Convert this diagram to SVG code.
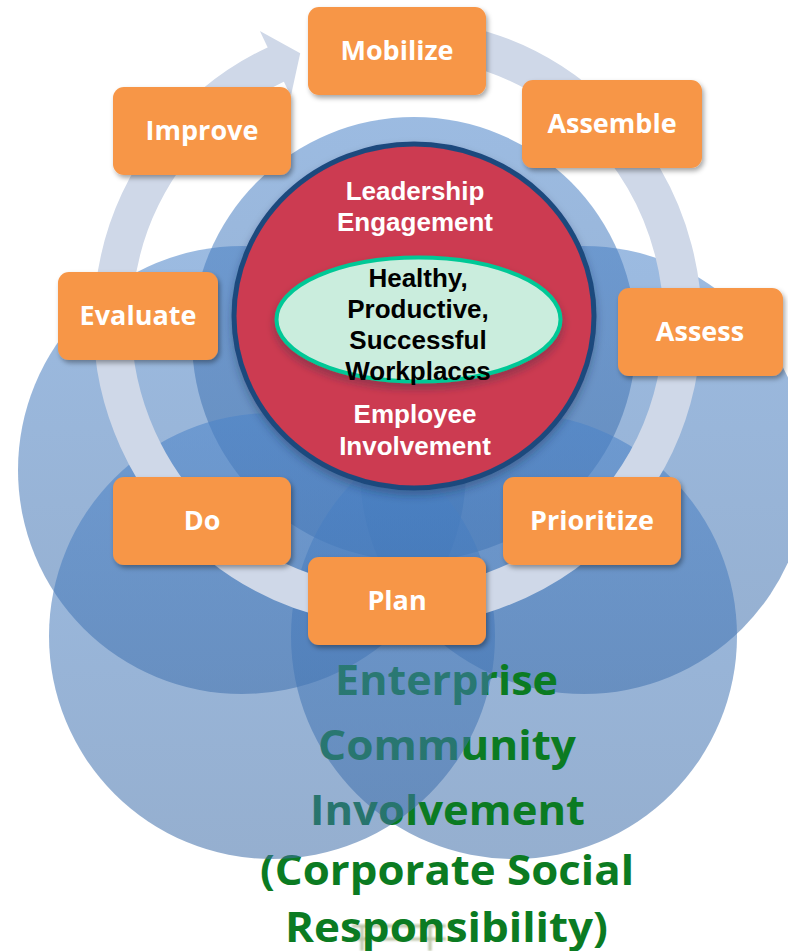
<svg xmlns="http://www.w3.org/2000/svg" width="788" height="951" viewBox="0 0 788 951">
  <defs>
    <linearGradient id="blueFill" x1="0" y1="0" x2="0" y2="1">
      <stop offset="0" stop-color="#4A83C9"/>
      <stop offset="1" stop-color="#3E6DA8"/>
    </linearGradient>
    <filter id="boxShadow" x="-20%" y="-20%" width="140%" height="150%">
      <feDropShadow dx="2" dy="3" stdDeviation="2.5" flood-color="#000" flood-opacity="0.35"/>
    </filter>
    <filter id="softShadow" x="-20%" y="-20%" width="140%" height="150%">
      <feDropShadow dx="0" dy="5" stdDeviation="4" flood-color="#1a2a40" flood-opacity="0.35"/>
    </filter>
    <filter id="faint" x="-10%" y="-10%" width="120%" height="120%">
      <feGaussianBlur stdDeviation="0.8"/>
    </filter>
  </defs>
  <style>
    .venn { fill: url(#blueFill); fill-opacity: 0.55; }
    .step rect { fill: #F79646; filter: url(#boxShadow); }
    .step text { font-family: "Open Sans", "Liberation Sans", sans-serif; font-weight: 700; font-size: 27px; fill: #FFFFFF; text-anchor: middle; }
    .core { font-family: "Liberation Sans", Arial, sans-serif; font-weight: 700; font-size: 26px; text-anchor: middle; }
    .big { font-family: "Open Sans", "Liberation Sans", sans-serif; font-weight: 700; font-size: 41px; fill: #0B7B22; }
  </style>

  <rect width="788" height="951" fill="#FFFFFF"/>

  <!-- overlapping background circles -->
  <g id="venn-back">
    <circle class="venn" cx="242" cy="470" r="224"/>
    <circle class="venn" cx="584" cy="470" r="224"/>
    <circle class="venn" cx="414" cy="339" r="222"/>
    <circle class="venn" cx="514" cy="636" r="223"/>
  </g>

  <!-- faint remnant frame below the caption -->
  <g id="remnant" filter="url(#faint)" stroke="#7F8F5A" stroke-opacity="0.55" stroke-width="3" fill="none">
    <path d="M352 926 H446 M362 926 V951 M430 926 V951 M352 939 H446"/>
  </g>

  <!-- caption -->
  <g id="caption">
    <text class="big" x="335" y="695" textLength="223" lengthAdjust="spacingAndGlyphs">Enterprise</text>
    <text class="big" x="318" y="760" textLength="258" lengthAdjust="spacingAndGlyphs">Community</text>
    <text class="big" x="310" y="825" textLength="275" lengthAdjust="spacingAndGlyphs">Involvement</text>
    <text class="big" x="260" y="885" textLength="374" lengthAdjust="spacingAndGlyphs">(Corporate Social</text>
    <text class="big" x="285" y="942" textLength="323" lengthAdjust="spacingAndGlyphs">Responsibility)</text>
  </g>

  <g id="venn-front">
    <circle class="venn" cx="272" cy="636" r="223"/>
  </g>

  <!-- cycle arrow around the core -->
  <g id="connectors">
    <path d="M329.1 45.5 A285 285 0 1 1 276.6 64.1" fill="none" stroke="#CFD8E8" stroke-width="38"/>
    <polygon points="259.9,31.1 300.2,53.2 290.8,96.2" fill="#CFD8E8"/>
  </g>

  <!-- core: leadership / employee circle -->
  <g id="core">
    <ellipse cx="414" cy="316" rx="180" ry="172" fill="#CC3A51" stroke="#1F497D" stroke-width="5" filter="url(#softShadow)"/>
    <text class="core" x="415" y="200" fill="#FFFFFF">Leadership</text>
    <text class="core" x="415" y="231" fill="#FFFFFF">Engagement</text>
    <text class="core" x="415" y="423" fill="#FFFFFF">Employee</text>
    <text class="core" x="415" y="455" fill="#FFFFFF">Involvement</text>
  </g>

  <g id="goal">
    <ellipse cx="418.5" cy="319.5" rx="142" ry="62" fill="#CAEDDD" stroke="#00C896" stroke-width="4" filter="url(#softShadow)"/>
    <text class="core" x="418" y="287" fill="#000000">Healthy,</text>
    <text class="core" x="418" y="318" fill="#000000">Productive,</text>
    <text class="core" x="418" y="349" fill="#000000">Successful</text>
    <text class="core" x="418" y="380" fill="#000000">Workplaces</text>
  </g>

  <!-- cycle steps -->
  <g id="mobilize" class="step"><rect x="308" y="7" width="178" height="88" rx="11"/><text x="397" y="60">Mobilize</text></g>
  <g id="assemble" class="step"><rect x="522" y="80" width="180" height="88" rx="11"/><text x="612" y="133">Assemble</text></g>
  <g id="assess" class="step"><rect x="618" y="288" width="165" height="88" rx="11"/><text x="700" y="341">Assess</text></g>
  <g id="prioritize" class="step"><rect x="503" y="477" width="178" height="88" rx="11"/><text x="592" y="530">Prioritize</text></g>
  <g id="plan" class="step"><rect x="308" y="557" width="178" height="88" rx="11"/><text x="397" y="610">Plan</text></g>
  <g id="do" class="step"><rect x="113" y="477" width="178" height="88" rx="11"/><text x="202" y="530">Do</text></g>
  <g id="evaluate" class="step"><rect x="58" y="272" width="160" height="88" rx="11"/><text x="138" y="325">Evaluate</text></g>
  <g id="improve" class="step"><rect x="113" y="87" width="178" height="88" rx="11"/><text x="202" y="140">Improve</text></g>
</svg>
